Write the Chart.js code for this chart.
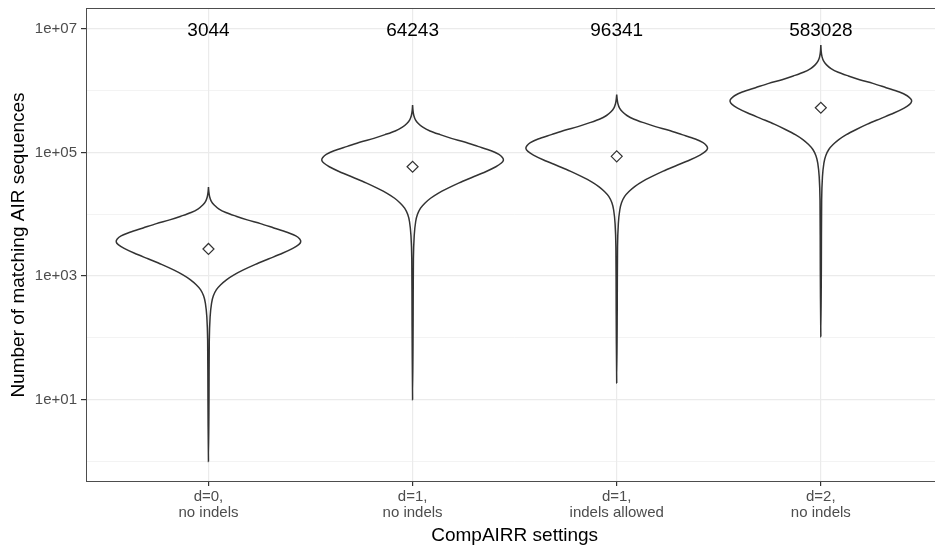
<!DOCTYPE html>
<html>
<head>
<meta charset="utf-8">
<script src="https://cdn.jsdelivr.net/npm/chart.js@4.4.1/dist/chart.umd.min.js"></script>
<style>
    html, body { margin: 0; padding: 0; background: #fff; overflow: hidden; }
    #wrap { width: 950px; height: 550px; }
</style>
</head>
<body>
<div id="wrap"><canvas id="violinChart" width="950" height="550"></canvas></div>
<script>
// x categories (multi-line tick labels)
const categories = [
    ['d=0,', 'no indels'],
    ['d=1,', 'no indels'],
    ['d=1,', 'indels allowed'],
    ['d=2,', 'no indels']
];
// numbers printed above each violin
const counts = [3044, 64243, 96341, 583028];
// mean markers (diamonds)
const means = [2750, 58900, 87000, 532000];

// violin outlines: log10(count) from top tip to bottom tip,
// and the half width at that height (in category units)
const violinLog1 = [4.44, 4.36, 4.28, 4.21, 4.15, 4.09, 4.03, 3.97, 3.91, 3.85, 3.78, 3.71, 3.65, 3.60, 3.556, 3.51, 3.45, 3.37, 3.28, 3.19, 3.10, 3.02, 2.94, 2.86, 2.78, 2.68, 2.56, 2.34, 1.96, 1.0, 0.0];
const violinHalf1 = [0, .002, .006, .014, .028, .05, .085, .135, .19, .255, .32, .385, .428, .447, .452, .442, .413, .362, .296, .23, .171, .125, .088, .06, .039, .024, .015, .008, .004, .0025, 0];
const violinLog2 = [5.77, 5.68, 5.60, 5.53, 5.47, 5.41, 5.35, 5.29, 5.23, 5.17, 5.10, 5.03, 4.97, 4.92, 4.879, 4.83, 4.77, 4.69, 4.60, 4.51, 4.42, 4.34, 4.26, 4.18, 4.10, 4.00, 3.88, 3.66, 3.28, 2.2, 1.0];
const violinHalf2 = [0, .002, .006, .014, .028, .05, .085, .135, .19, .255, .32, .385, .423, .44, .445, .435, .408, .358, .293, .228, .171, .125, .088, .06, .039, .024, .015, .008, .004, .0025, 0];
const violinLog3 = [5.94, 5.87, 5.79, 5.72, 5.66, 5.60, 5.54, 5.48, 5.42, 5.36, 5.29, 5.22, 5.16, 5.11, 5.068, 5.02, 4.96, 4.88, 4.79, 4.70, 4.61, 4.53, 4.45, 4.37, 4.29, 4.19, 4.07, 3.85, 3.47, 2.4, 1.27];
const violinHalf3 = [0, .002, .006, .014, .028, .05, .085, .135, .19, .255, .32, .385, .423, .44, .445, .435, .408, .358, .293, .228, .171, .125, .088, .06, .039, .024, .015, .008, .004, .0025, 0];
const violinLog4 = [6.74, 6.63, 6.55, 6.48, 6.42, 6.36, 6.30, 6.24, 6.18, 6.12, 6.05, 5.98, 5.92, 5.87, 5.834, 5.78, 5.72, 5.64, 5.55, 5.46, 5.37, 5.29, 5.21, 5.13, 5.05, 4.95, 4.83, 4.61, 4.23, 3.1, 2.02];
const violinHalf4 = [0, .002, .006, .014, .028, .05, .085, .135, .19, .255, .32, .385, .423, .44, .445, .435, .408, .358, .293, .228, .171, .125, .088, .06, .039, .024, .015, .008, .004, .0025, 0];

// y axis: gridlines at every power of ten, labels on odd powers
const yTickExps = [0, 1, 2, 3, 4, 5, 6, 7];
const countLabelY = 1e7;

const fontFamily = '"Liberation Sans", Arial, Helvetica, sans-serif';
const lineColor = '#333333';

// right side top -> bottom, then left side back up
function outline(pos, logs, half) {
    const right = logs.map((e, i) => ({ x: pos + half[i], y: Math.pow(10, e) }));
    const left = logs.map((e, i) => ({ x: pos - half[i], y: Math.pow(10, e) })).reverse().slice(1);
    return right.concat(left);
}

const violins = [
    [violinLog1, violinHalf1],
    [violinLog2, violinHalf2],
    [violinLog3, violinHalf3],
    [violinLog4, violinHalf4]
];

const datasets = violins.map(([logs, half], i) => ({
    data: outline(i + 1, logs, half),
    showLine: true,
    fill: false,
    borderColor: lineColor,
    borderWidth: 1.5,
    tension: 0.3,
    pointRadius: 0,
    order: 2
}));

datasets.push({
    data: means.map((m, i) => ({ x: i + 1, y: m })),
    showLine: false,
    pointStyle: 'rectRot',
    pointRadius: 5.5,
    borderColor: lineColor,
    backgroundColor: '#ffffff',
    borderWidth: 1.2,
    order: 1
});

const isMajor = v => Math.round(Math.log10(v)) % 2 === 1;

// ggplot-style panel border
const panelBorder = {
    id: 'panelBorder',
    afterDatasetsDraw(chart) {
        const { ctx, chartArea: a } = chart;
        ctx.save();
        ctx.strokeStyle = '#4d4d4d';
        ctx.lineWidth = 1;
        ctx.strokeRect(Math.round(a.left) + 0.5, Math.round(a.top) + 0.5, a.right - a.left, Math.round(a.bottom - a.top) - 1);
        ctx.restore();
    }
};

// count text above each violin
const countLabels = {
    id: 'countLabels',
    afterDatasetsDraw(chart) {
        const { ctx, scales: { x, y } } = chart;
        ctx.save();
        ctx.font = '19px ' + fontFamily;
        ctx.fillStyle = '#000000';
        ctx.textAlign = 'center';
        ctx.textBaseline = 'middle';
        counts.forEach((n, i) => {
            ctx.fillText(String(n), x.getPixelForValue(i + 1), y.getPixelForValue(countLabelY) + 2);
        });
        ctx.restore();
    }
};

const ctx = document.getElementById('violinChart').getContext('2d');
const chart = new Chart(ctx, {
    type: 'scatter',
    data: { datasets },
    options: {
        responsive: false,
        animation: false,
        devicePixelRatio: 1,
        layout: { padding: { top: 8, right: 5, left: 0, bottom: 0 } },
        plugins: {
            legend: { display: false },
            tooltip: { enabled: false }
        },
        scales: {
            x: {
                type: 'linear',
                min: 0.4,
                max: 4.6,
                afterBuildTicks: s => { s.ticks = categories.map((c, i) => ({ value: i + 1 })); },
                afterFit: s => { s.height = 68; },
                ticks: {
                    callback: v => categories[Math.round(v) - 1],
                    color: '#4d4d4d',
                    font: { family: fontFamily, size: 15, lineHeight: 1.05 },
                    padding: 3,
                    maxRotation: 0,
                    autoSkip: false
                },
                grid: { color: '#ebebeb', lineWidth: 1.2, tickColor: lineColor, tickLength: 4 },
                border: { display: false },
                title: {
                    display: true,
                    text: 'CompAIRR settings',
                    color: '#000000',
                    font: { family: fontFamily, size: 19 },
                    padding: { top: 0, bottom: 3 }
                }
            },
            y: {
                type: 'logarithmic',
                min: 0.464,
                max: 2.19e7,
                afterBuildTicks: s => { s.ticks = yTickExps.map(e => ({ value: Math.pow(10, e) })); },
                afterFit: s => {
                    s.width = 86;
                    // the top label sits well inside the panel, no extra room needed
                    s.paddingTop = 0;
                    s.paddingBottom = 0;
                },
                ticks: {
                    callback: v => isMajor(v) ? '1e+' + String(Math.round(Math.log10(v))).padStart(2, '0') : '',
                    color: '#4d4d4d',
                    font: { family: fontFamily, size: 15 },
                    padding: 4,
                    autoSkip: false
                },
                grid: {
                    color: '#ebebeb',
                    lineWidth: c => isMajor(c.tick.value) ? 1.2 : 0.6,
                    tickColor: c => isMajor(c.tick.value) ? lineColor : 'rgba(0,0,0,0)',
                    tickLength: 5
                },
                border: { display: false },
                title: {
                    display: true,
                    text: 'Number of matching AIR sequences',
                    color: '#000000',
                    font: { family: fontFamily, size: 19 },
                    padding: { top: 7, bottom: 0 }
                }
            }
        }
    },
    plugins: [panelBorder, countLabels]
});
</script>
</body>
</html>
